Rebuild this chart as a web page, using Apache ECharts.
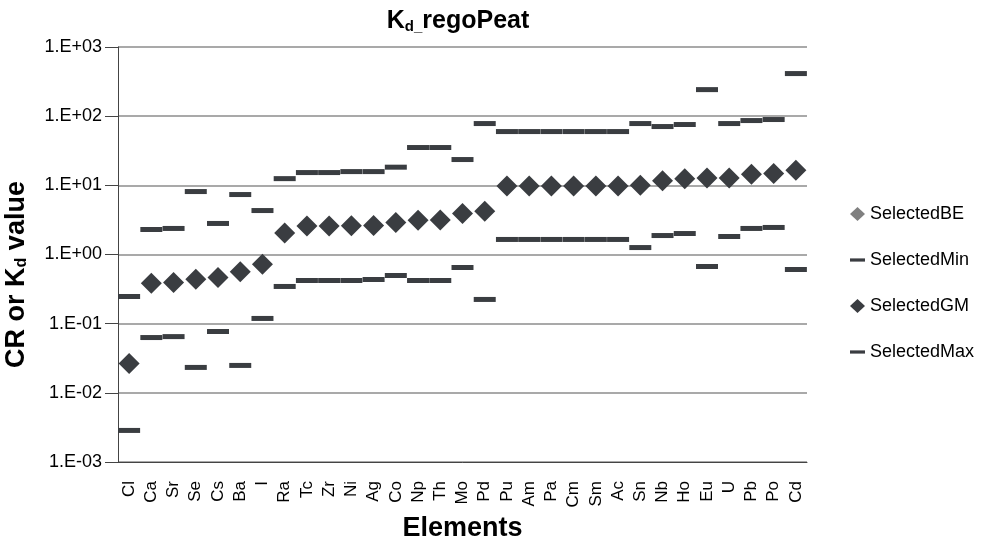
<!DOCTYPE html>
<html>
<head>
<meta charset="utf-8">
<script src="https://cdn.jsdelivr.net/npm/echarts@6/dist/echarts.min.js"></script>
<style>
html, body { margin: 0; padding: 0; background: #fff; }
#chart { width: 981px; height: 541px; }
</style>
</head>
<body>
<div id="chart"></div>
<script>
var elements = ['Cl', 'Ca', 'Sr', 'Se', 'Cs', 'Ba', 'I', 'Ra', 'Tc', 'Zr', 'Ni', 'Ag', 'Co', 'Np', 'Th', 'Mo',
    'Pd', 'Pu', 'Am', 'Pa', 'Cm', 'Sm', 'Ac', 'Sn', 'Nb', 'Ho', 'Eu', 'U', 'Pb', 'Po', 'Cd'];
var selectedBE = [];
var selectedMin = [0.00286, 0.063, 0.065, 0.0233, 0.077, 0.0249, 0.119, 0.345, 0.421, 0.421, 0.421, 0.435, 0.497, 0.421, 0.421, 0.649,
    0.224, 1.65, 1.65, 1.65, 1.65, 1.65, 1.65, 1.26, 1.88, 2.01, 0.671, 1.82, 2.38, 2.46, 0.607];
var selectedGM = [0.0266, 0.385, 0.394, 0.44, 0.465, 0.561, 0.724, 2.05, 2.59, 2.59, 2.6, 2.62, 2.9, 3.13, 3.15, 3.91,
    4.22, 9.8, 9.8, 9.8, 9.8, 9.8, 9.8, 10.0, 11.6, 12.5, 12.8, 12.8, 14.5, 14.8, 16.5];
var selectedMax = [0.247, 2.30, 2.38, 8.13, 2.81, 7.36, 4.32, 12.5, 15.3, 15.3, 15.8, 15.8, 18.3, 35.2, 35.2, 23.6,
    78.2, 59.9, 59.9, 59.9, 59.9, 59.9, 59.9, 78.2, 70.8, 75.7, 242, 78.2, 86.4, 89.4, 413];

var dark = '#3a3d41';
var font = '"Liberation Sans", Arial, sans-serif';
var dash = 'path://M0,5.5 L14,5.5 L14,8.5 L0,8.5 Z';

var chart = echarts.init(document.getElementById('chart'));
chart.setOption({
    animation: false,
    title: {
        text: '{b|K}{s|d_}{b|regoPeat}',
        left: 453,
        textAlign: 'center',
        top: 2,
        textStyle: {
            rich: {
                b: { fontFamily: font, fontWeight: 'bold', fontSize: 25, color: '#000', verticalAlign: 'bottom' },
                s: { fontFamily: font, fontWeight: 'bold', fontSize: 15, color: '#000', padding: [12, 0, 0, 0], verticalAlign: 'bottom' }
            }
        }
    },
    legend: {
        orient: 'vertical',
        left: 845,
        top: 200,
        itemGap: 28,
        itemWidth: 15,
        itemHeight: 14,
        textStyle: { fontFamily: font, fontSize: 18, color: '#000' },
        data: [
            { name: 'SelectedBE', icon: 'diamond', itemStyle: { color: '#808080' } },
            { name: 'SelectedMin', icon: dash, itemStyle: { color: dark } },
            { name: 'SelectedGM', icon: 'diamond', itemStyle: { color: dark } },
            { name: 'SelectedMax', icon: dash, itemStyle: { color: dark } }
        ]
    },
    grid: { left: 118, right: 174, top: 47, bottom: 79, outerBoundsMode: 'none', containLabel: false },
    xAxis: {
        type: 'category',
        data: elements,
        name: 'Elements',
        nameLocation: 'middle',
        nameGap: 44,
        nameTextStyle: { fontFamily: font, fontWeight: 'bold', fontSize: 27, color: '#000' },
        axisLine: { lineStyle: { color: '#444', width: 1 } },
        axisTick: { length: 8, lineStyle: { color: '#444' } },
        axisLabel: { rotate: 90, interval: 0, margin: 19, fontFamily: font, fontSize: 17, color: '#000', verticalAlign: 'middle' }
    },
    yAxis: {
        type: 'log',
        logBase: 10,
        min: 0.001,
        max: 1000,
        name: '{b|CR or K}{s|d}{b| value}',
        nameLocation: 'middle',
        nameGap: 88,
        nameRotate: 90,
        nameTextStyle: {
            padding: [0, 40, 0, 0],
            rich: {
                b: { fontFamily: font, fontWeight: 'bold', fontSize: 27, color: '#000', verticalAlign: 'bottom' },
                s: { fontFamily: font, fontWeight: 'bold', fontSize: 16, color: '#000', padding: [12, 0, 0, 0], verticalAlign: 'bottom' }
            }
        },
        axisLine: { show: true, lineStyle: { color: '#444', width: 1 } },
        axisTick: { show: true, length: 13, lineStyle: { color: '#444' } },
        axisLabel: {
            margin: 16,
            fontFamily: font,
            fontSize: 18,
            color: '#000',
            formatter: function (v) {
                var e = Math.round(Math.log10(v));
                var s = Math.abs(e) < 10 ? '0' + Math.abs(e) : '' + Math.abs(e);
                return '1.E' + (e < 0 ? '-' : '+') + s;
            }
        },
        splitLine: { show: true, lineStyle: { color: '#8c8c8c', width: 1.5 } }
    },
    series: [
        {
            name: 'SelectedBE', type: 'scatter', data: selectedBE,
            symbol: 'diamond', symbolSize: 21, itemStyle: { color: '#808080', opacity: 1 }
        },
        {
            name: 'SelectedMin', type: 'scatter', data: selectedMin,
            symbol: 'rect', symbolSize: [22, 5], itemStyle: { color: dark, opacity: 1 }
        },
        {
            name: 'SelectedGM', type: 'scatter', data: selectedGM,
            symbol: 'diamond', symbolSize: 21, itemStyle: { color: dark, opacity: 1 }
        },
        {
            name: 'SelectedMax', type: 'scatter', data: selectedMax,
            symbol: 'rect', symbolSize: [22, 5], itemStyle: { color: dark, opacity: 1 }
        }
    ]
});
</script>
</body>
</html>
